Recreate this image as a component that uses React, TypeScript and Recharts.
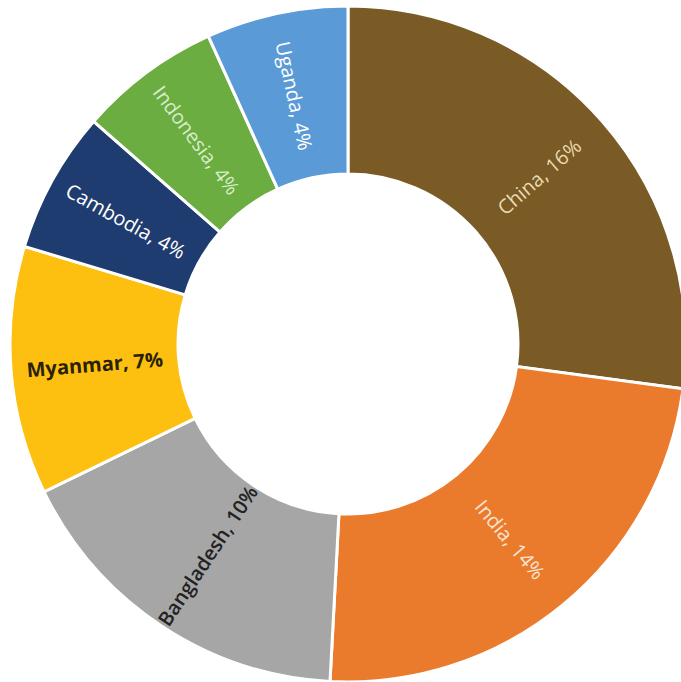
import React from "react";
import { PieChart, Pie, Cell } from "recharts";

const countries = ["China", "India", "Bangladesh", "Myanmar", "Cambodia", "Indonesia", "Uganda"];
const shares = [16, 14, 10, 7, 4, 4, 4];
const sliceColors = ["#7A5B26", "#EA7B2D", "#A6A6A6", "#FDC011", "#1F3C70", "#6BAD41", "#5A9AD6"];
const labelColors = ["#EAD9AE", "#FBE3D2", "#222222", "#2A2205", "#FFFFFF", "#D9EDC8", "#FFFFFF"];
const labelWeights = [400, 400, 600, 700, 400, 400, 400];

const data = countries.map((name, i) => ({ name, value: shares[i] }));

const RAD = Math.PI / 180;

function renderLabel(props: any) {
  const { cx, cy, midAngle, innerRadius, outerRadius, index, name, value } = props;
  const r = (innerRadius + outerRadius) / 2;
  const x = cx + r * Math.cos(-midAngle * RAD);
  const y = cy + r * Math.sin(-midAngle * RAD);
  // clockwise angle from 12 o'clock
  const a = (((90 - midAngle) % 360) + 360) % 360;
  const rot = a < 180 ? a - 90 : a - 270;
  return (
    <text
      x={x}
      y={y}
      fill={labelColors[index]}
      fontWeight={labelWeights[index]}
      fontSize={20}
      fontFamily="'Open Sans', sans-serif"
      textAnchor="middle"
      dominantBaseline="central"
      transform={`rotate(${rot} ${x} ${y})`}
    >
      {`${name}, ${value}%`}
    </text>
  );
}

export default function App() {
  return (
    <div style={{ position: "absolute", left: 0, top: 0, width: 681, height: 682, background: "#fff" }}>
      <PieChart width={681} height={682} margin={{ top: 0, right: 0, bottom: 0, left: 0 }}>
        <Pie
          data={data}
          dataKey="value"
          nameKey="name"
          cx={348}
          cy={344}
          innerRadius={170}
          outerRadius={338}
          startAngle={90}
          endAngle={-270}
          stroke="#FFFFFF"
          strokeWidth={3}
          label={renderLabel}
          labelLine={false}
          isAnimationActive={false}
        >
          {data.map((d, i) => (
            <Cell key={d.name} fill={sliceColors[i]} />
          ))}
        </Pie>
      </PieChart>
    </div>
  );
}
